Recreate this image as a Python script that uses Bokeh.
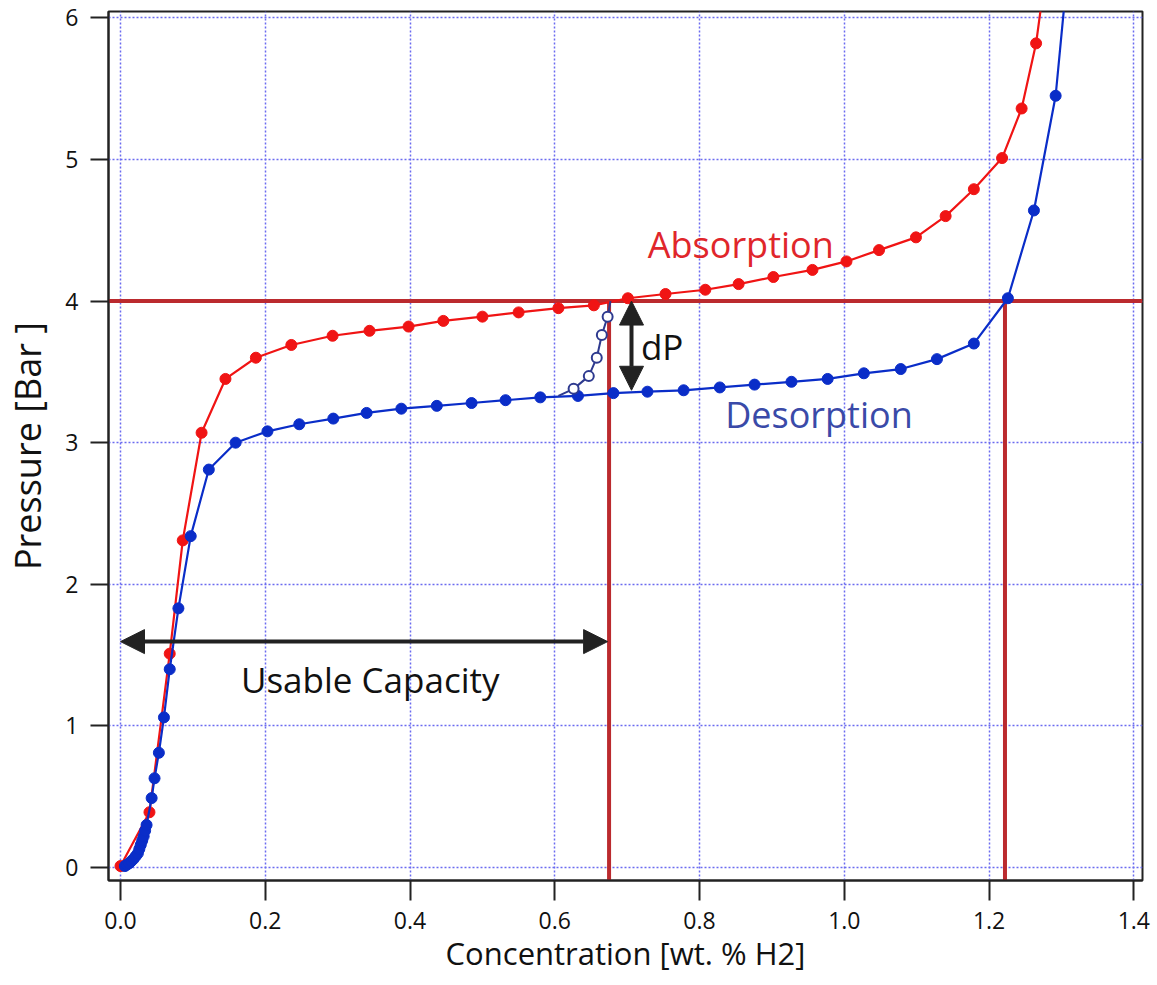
from bokeh.plotting import figure
from bokeh.models import Range1d, FixedTicker, Arrow, NormalHead, Label, NumeralTickFormatter
from bokeh.embed import file_html
from bokeh.resources import INLINE

# ---- data ----
abs_x = [0.0, 0.040, 0.068, 0.086, 0.112, 0.145, 0.187, 0.236, 0.293, 0.344, 0.398, 0.446,
         0.500, 0.550, 0.605, 0.654, 0.701, 0.753, 0.808, 0.854, 0.902, 0.956, 1.003, 1.048,
         1.099, 1.140, 1.179, 1.218, 1.245, 1.265, 1.275]
abs_y = [0.01, 0.39, 1.51, 2.31, 3.07, 3.45, 3.60, 3.69, 3.755, 3.79, 3.82, 3.86,
         3.89, 3.92, 3.95, 3.97, 4.02, 4.05, 4.08, 4.12, 4.17, 4.22, 4.28, 4.36,
         4.45, 4.60, 4.79, 5.01, 5.36, 5.82, 6.20]

des_x = [0.006, 0.009, 0.012, 0.015, 0.018, 0.021, 0.024, 0.026, 0.028, 0.030, 0.032, 0.034,
         0.036, 0.043, 0.047, 0.053, 0.060, 0.068, 0.080, 0.097, 0.122, 0.159, 0.203, 0.247,
         0.294, 0.340, 0.388, 0.437, 0.485, 0.532, 0.580, 0.632, 0.681, 0.728, 0.778, 0.828,
         0.876, 0.927, 0.977, 1.027, 1.078, 1.128, 1.179, 1.226, 1.262, 1.292, 1.306]
des_y = [0.01, 0.02, 0.03, 0.045, 0.06, 0.08, 0.10, 0.13, 0.16, 0.19, 0.22, 0.26,
         0.30, 0.49, 0.63, 0.81, 1.06, 1.40, 1.83, 2.34, 2.81, 3.00, 3.08, 3.13,
         3.17, 3.21, 3.24, 3.26, 3.28, 3.30, 3.32, 3.33, 3.35, 3.36, 3.37, 3.39,
         3.41, 3.43, 3.45, 3.49, 3.52, 3.59, 3.70, 4.02, 4.64, 5.45, 6.20]

scan_line_x = [0.605, 0.626, 0.647, 0.658, 0.665, 0.673, 0.677]
scan_line_y = [3.33, 3.38, 3.47, 3.60, 3.76, 3.89, 4.00]
scan_x = [0.626, 0.647, 0.658, 0.665, 0.673]
scan_y = [3.38, 3.47, 3.60, 3.76, 3.89]

level_p = 4.0
level_x = [0.675, 1.222]          # concentrations where isotherms cross 4 bar
dp_x = 0.706
dp_y = [4.0, 3.37]
cap_y = 1.595
cap_x = [0.0, 0.673]

x_ticks = [0.0, 0.2, 0.4, 0.6, 0.8, 1.0, 1.2, 1.4]
y_ticks = [0, 1, 2, 3, 4, 5, 6]

FONT = "Open Sans"
RED = "#f01414"
BLUE = "#0a2dc8"
DARKRED = "#bb2a2e"
SCAN = "#2e3a8f"
GRID = "#6b6bf0"

x0, x1 = -0.0166, 1.412
y0, y1 = -0.092, 6.045

p = figure(width=1157, height=985, output_backend="svg", toolbar_location=None,
           x_range=Range1d(x0, x1), y_range=Range1d(y0, y1),
           min_border_left=108, min_border_right=15, min_border_top=11, min_border_bottom=105)

p.outline_line_color = "#222222"
p.outline_line_width = 2
p.background_fill_color = "white"

for ax in (p.xaxis[0], p.yaxis[0]):
    ax.axis_line_color = "#222222"
    ax.axis_line_width = 2
    ax.major_tick_line_color = "#222222"
    ax.major_tick_line_width = 2
    ax.major_tick_in = 0
    ax.minor_tick_line_color = None
    ax.major_label_text_font = FONT
    ax.major_label_text_font_size = "23px"
    ax.major_label_text_color = "#111111"
    ax.axis_label_text_font = FONT
    ax.axis_label_text_font_style = "normal"
    ax.axis_label_text_color = "#111111"

p.xaxis[0].ticker = FixedTicker(ticks=x_ticks)
p.yaxis[0].ticker = FixedTicker(ticks=y_ticks)
p.xaxis[0].formatter = NumeralTickFormatter(format="0.0")
p.yaxis[0].formatter = NumeralTickFormatter(format="0")
p.xaxis[0].major_tick_out = 20
p.yaxis[0].major_tick_out = 18
p.xaxis[0].major_label_standoff = 11
p.yaxis[0].major_label_standoff = 12
p.xaxis[0].axis_label = "Concentration [wt. % H2]"
p.xaxis[0].axis_label_text_font_size = "31px"
p.xaxis[0].axis_label_standoff = 0
p.yaxis[0].axis_label = "Pressure [Bar ]"
p.yaxis[0].axis_label_text_font_size = "36px"
p.yaxis[0].axis_label_standoff = 10

p.grid.grid_line_color = GRID
p.grid.grid_line_dash = "2 2"
p.grid.grid_line_width = 1.5
p.xgrid[0].ticker = FixedTicker(ticks=x_ticks)
p.ygrid[0].ticker = FixedTicker(ticks=y_ticks)

# reference lines at 4 bar
p.segment(x0=[x0], y0=[level_p], x1=[x1], y1=[level_p], line_color=DARKRED, line_width=4)
p.segment(x0=level_x, y0=[level_p] * len(level_x), x1=level_x, y1=[y0] * len(level_x),
          line_color=DARKRED, line_width=4)

# isotherms
p.line(abs_x, abs_y, line_color=RED, line_width=2.2)
p.scatter(abs_x, abs_y, size=11, fill_color=RED, line_color=RED)
p.line(des_x, des_y, line_color=BLUE, line_width=2.2)
p.scatter(des_x, des_y, size=11, fill_color=BLUE, line_color=BLUE)
p.line(scan_line_x, scan_line_y, line_color=SCAN, line_width=2)
p.scatter(scan_x, scan_y, size=10, fill_color="white", line_color=SCAN, line_width=2)

# arrows
head = dict(size=24, fill_color="#222222", line_color="#222222")
p.add_layout(Arrow(start=NormalHead(**head), end=NormalHead(**head),
                   x_start=cap_x[0], y_start=cap_y, x_end=cap_x[1], y_end=cap_y,
                   line_color="#222222", line_width=4))
p.add_layout(Arrow(start=NormalHead(**head), end=NormalHead(**head),
                   x_start=dp_x, y_start=dp_y[0], x_end=dp_x, y_end=dp_y[1],
                   line_color="#222222", line_width=4))

# labels
p.add_layout(Label(x=0.857, y=4.40, text="Absorption", text_font=FONT, text_font_size="36px",
                   text_color="#e0262b", text_align="center", text_baseline="middle"))
p.add_layout(Label(x=0.965, y=3.20, text="Desorption", text_font=FONT, text_font_size="36px",
                   text_color="#3a4aa8", text_align="center", text_baseline="middle"))
p.add_layout(Label(x=0.719, y=3.68, text="dP", text_font=FONT, text_font_size="35px",
                   text_color="#111111", text_align="left", text_baseline="middle"))
p.add_layout(Label(x=0.345, y=1.33, text="Usable Capacity", text_font=FONT, text_font_size="35px",
                   text_color="#111111", text_align="center", text_baseline="middle"))

open("out.html", "w").write(file_html(p, INLINE))
